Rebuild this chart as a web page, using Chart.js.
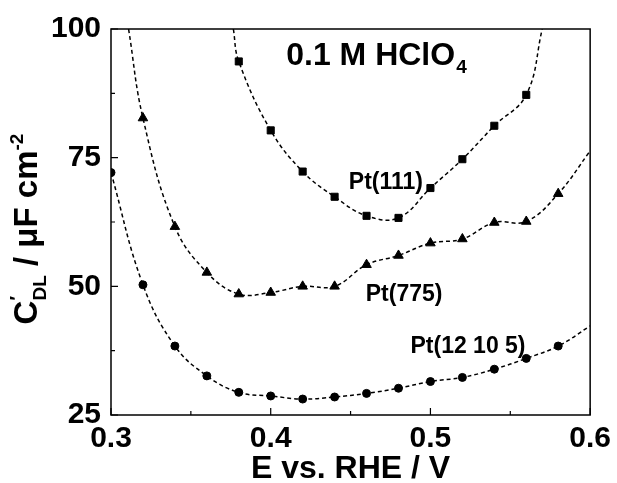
<!DOCTYPE html>
<html><head><meta charset="utf-8">
<script src="https://cdn.jsdelivr.net/npm/chart.js@4/dist/chart.umd.min.js"></script>
<style>html,body{margin:0;padding:0;background:#fff;}#wrap{width:617px;height:483px;}</style>
</head><body><div id="wrap"><canvas id="c" width="617" height="483"></canvas></div>
<script>
// Potentials (V vs RHE) and capacitances (µF cm^-2)
const pt111E = [0.38, 0.40, 0.42, 0.44, 0.46, 0.48, 0.50, 0.52, 0.54, 0.56];
const pt111C = [93.7, 80.3, 72.3, 67.4, 63.7, 63.3, 69.1, 74.7, 81.2, 87.2];
const pt775E = [0.32, 0.34, 0.36, 0.38, 0.40, 0.42, 0.44, 0.46, 0.48, 0.50, 0.52, 0.54, 0.56, 0.58];
const pt775C = [82.7, 61.6, 52.7, 48.5, 48.8, 50.0, 50.0, 54.2, 56.0, 58.4, 59.2, 62.4, 62.6, 68.0];
const pt12105E = [0.30, 0.32, 0.34, 0.36, 0.38, 0.40, 0.42, 0.44, 0.46, 0.48, 0.50, 0.52, 0.54, 0.56, 0.58];
const pt12105C = [72.1, 50.3, 38.4, 32.6, 29.4, 28.7, 28.1, 28.5, 29.2, 30.2, 31.5, 32.3, 33.9, 36.0, 38.4];
// Ends of the dashed fit curves
const fit111EndsE = [0.3766, 0.570];
const fit111EndsC = [100, 100];
const fit775EndsE = [0.311, 0.60];
const fit775EndsC = [100, 76.3];
const fit12105EndsE = [null, 0.60];
const fit12105EndsC = [null, 42.3];
// Axis ticks
const xMajorTicks = [0.3, 0.4, 0.5, 0.6];
const xMinorTicks = [0.35, 0.45, 0.55];
const yMajorTicks = [25, 50, 75, 100];
const yMinorTicks = [37.5, 62.5, 87.5];
const seriesLabels = ['Pt(111)', 'Pt(775)', 'Pt(12 10 5)'];

const FONT = "'Liberation Sans', Arial, sans-serif";
const pts = (E, C) => E.map((e, i) => ({x: e, y: C[i]}));
const fitPts = (E, C, endsE, endsC) => {
  const a = [];
  if (endsE[0] !== null) a.push({x: endsE[0], y: endsC[0]});
  a.push(...pts(E, C));
  if (endsE[1] !== null) a.push({x: endsE[1], y: endsC[1]});
  return a;
};
const fitStyle = {showLine: true, borderColor: '#000', borderWidth: 1.5, borderDash: [4, 3],
  pointRadius: 0, tension: 0.4, fill: false};
const markStyle = {showLine: false, borderColor: '#000', backgroundColor: '#000', borderWidth: 1};

const decor = {
  id: 'decor',
  afterDatasetsDraw(chart) {
    const {ctx, chartArea: ca, scales: {x, y}} = chart;
    ctx.save();
    ctx.strokeStyle = '#000'; ctx.lineWidth = 1.5;
    ctx.strokeRect(ca.left, ca.top, ca.right - ca.left, ca.bottom - ca.top);
    ctx.lineWidth = 1.2;
    ctx.beginPath();
    const xt = (v, l) => { const p = x.getPixelForValue(v); ctx.moveTo(p, ca.bottom); ctx.lineTo(p, ca.bottom - l); };
    const yt = (v, l) => { const p = y.getPixelForValue(v); ctx.moveTo(ca.left, p); ctx.lineTo(ca.left + l, p); };
    xMajorTicks.forEach(v => xt(v, 7)); xMinorTicks.forEach(v => xt(v, 4));
    yMajorTicks.forEach(v => yt(v, 7)); yMinorTicks.forEach(v => yt(v, 4));
    ctx.stroke();

    ctx.fillStyle = '#000'; ctx.textBaseline = 'alphabetic'; ctx.textAlign = 'left';
    const F = s => `bold ${s}px ${FONT}`;
    // electrolyte label
    let px = x.getPixelForValue(0.4097), py = y.getPixelForValue(93.06);
    ctx.font = F(32); ctx.fillText('0.1 M HClO', px, py);
    let w = ctx.measureText('0.1 M HClO').width;
    ctx.font = F(19); ctx.fillText('4', px + w + 1, py + 8);
    // series labels
    ctx.font = F(23);
    ctx.fillText(seriesLabels[0], x.getPixelForValue(0.4489), y.getPixelForValue(68.85));
    ctx.fillText(seriesLabels[1], x.getPixelForValue(0.4595), y.getPixelForValue(47.07));
    ctx.fillText(seriesLabels[2], x.getPixelForValue(0.4875), y.getPixelForValue(36.96));
    // x title
    ctx.font = F(32); ctx.textAlign = 'center';
    ctx.fillText('E vs. RHE / V', (ca.left + ca.right) / 2, 478);
    // y title (rotated)
    ctx.textAlign = 'left';
    const big = 33, small = 19;
    const runs = [
      {t: 'C', s: big, dy: 0, adv: true},
      {t: '\u2032', s: small, dy: -14, adv: false},
      {t: 'DL', s: small, dy: 9, adv: true},
      {t: ' / \u03bcF cm', s: big, dy: 0, adv: true},
      {t: '-2', s: small, dy: -14, adv: true}
    ];
    let total = 0;
    runs.forEach(r => { ctx.font = F(r.s); r.w = ctx.measureText(r.t).width; if (r.adv) total += r.w; });
    ctx.translate(37, 229); ctx.rotate(-Math.PI / 2);
    let cx = -total / 2;
    runs.forEach(r => { ctx.font = F(r.s); ctx.fillText(r.t, cx, r.dy); if (r.adv) cx += r.w; });
    ctx.restore();
  }
};

new Chart(document.getElementById('c'), {
  type: 'scatter',
  data: {datasets: [
    Object.assign({label: 'fit111', data: fitPts(pt111E, pt111C, fit111EndsE, fit111EndsC)}, fitStyle),
    Object.assign({label: 'fit775', data: fitPts(pt775E, pt775C, fit775EndsE, fit775EndsC)}, fitStyle),
    Object.assign({label: 'fit12105', data: fitPts(pt12105E, pt12105C, fit12105EndsE, fit12105EndsC)}, fitStyle),
    Object.assign({label: seriesLabels[0], data: pts(pt111E, pt111C), pointStyle: 'rect', pointRadius: 5}, markStyle),
    Object.assign({label: seriesLabels[1], data: pts(pt775E, pt775C), pointStyle: 'triangle', pointRadius: 5.5}, markStyle),
    Object.assign({label: seriesLabels[2], data: pts(pt12105E, pt12105C), pointStyle: 'circle', pointRadius: 4}, markStyle)
  ]},
  options: {
    responsive: false, animation: false, devicePixelRatio: 1,
    layout: {padding: {top: 29, right: 25, left: 0, bottom: 0}},
    plugins: {legend: {display: false}, tooltip: {enabled: false}},
    scales: {
      x: {type: 'linear', min: 0.3, max: 0.6,
        ticks: {stepSize: 0.1, callback: v => v.toFixed(1), color: '#000', padding: 6, maxRotation: 0,
          font: {family: FONT, size: 30, weight: 'bold'}},
        grid: {display: false, drawTicks: false}, border: {display: false},
        afterFit(s) { s.height = 68; }},
      y: {type: 'linear', min: 25, max: 100,
        ticks: {stepSize: 25, color: '#000', padding: 10,
          font: {family: FONT, size: 30, weight: 'bold'}},
        grid: {display: false, drawTicks: false}, border: {display: false},
        afterFit(s) { s.width = 111; }}
    }
  },
  plugins: [decor]
});
</script></body></html>
